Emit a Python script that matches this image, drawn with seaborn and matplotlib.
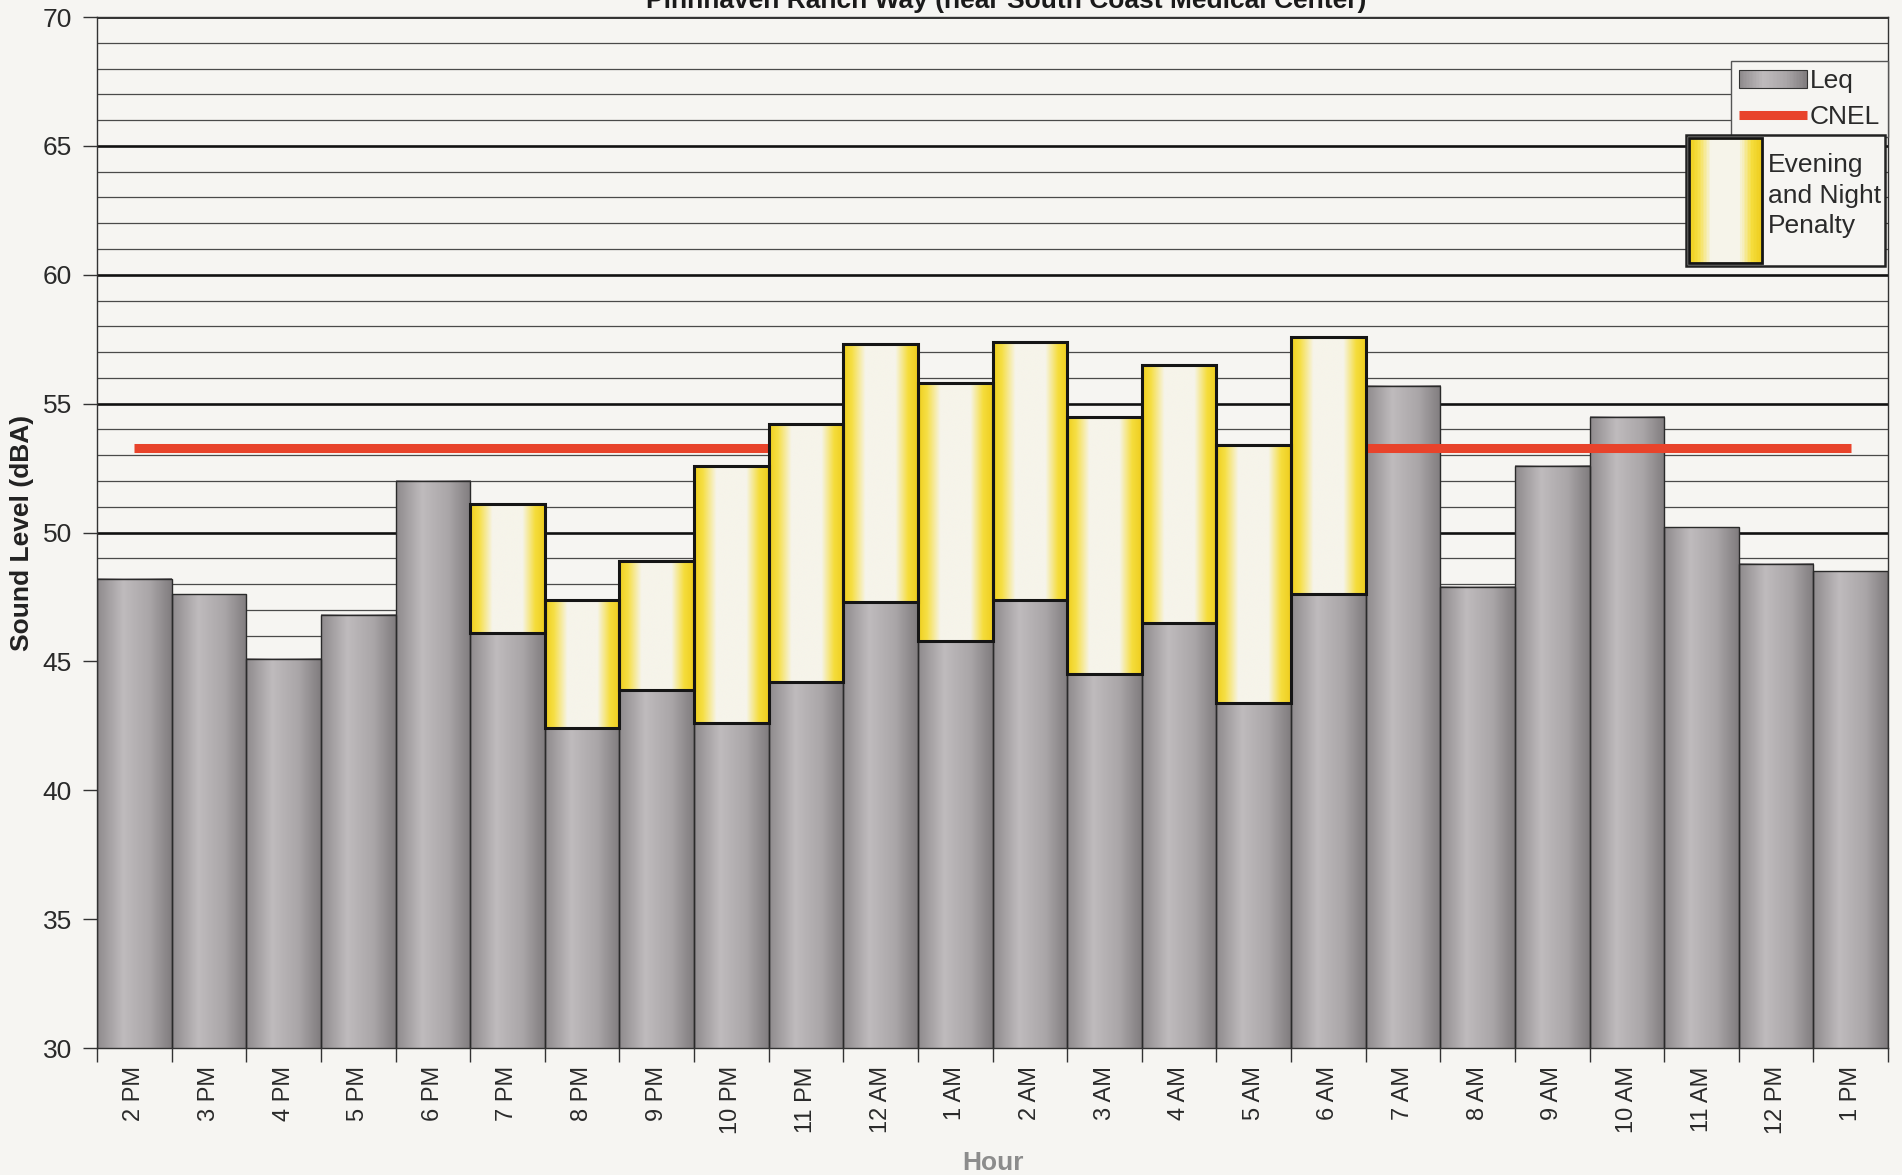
import numpy as np
import pandas as pd
import matplotlib
matplotlib.use("Agg")
import matplotlib.pyplot as plt
import seaborn as sns
from matplotlib.colors import LinearSegmentedColormap
from matplotlib.patches import Rectangle
from matplotlib.lines import Line2D
from matplotlib.legend_handler import HandlerBase
from matplotlib.ticker import MultipleLocator

# ---------------- data ----------------
hours = ["2 PM", "3 PM", "4 PM", "5 PM", "6 PM", "7 PM", "8 PM", "9 PM", "10 PM", "11 PM",
         "12 AM", "1 AM", "2 AM", "3 AM", "4 AM", "5 AM", "6 AM", "7 AM", "8 AM", "9 AM",
         "10 AM", "11 AM", "12 PM", "1 PM"]
leq = [48.2, 47.6, 45.1, 46.8, 52.0, 46.1, 42.4, 43.9, 42.6, 44.2,
       47.3, 45.8, 47.4, 44.5, 46.5, 43.4, 47.6, 55.7, 47.9, 52.6,
       54.5, 50.2, 48.8, 48.5]
penalty = [0, 0, 0, 0, 0, 5, 5, 5, 10, 10,
           10, 10, 10, 10, 10, 10, 10, 0, 0, 0,
           0, 0, 0, 0]
cnel = 53.3
title = "Pinnhaven Ranch Way (near South Coast Medical Center)"
y_ticks = [30, 35, 40, 45, 50, 55, 60, 65, 70]
y_range = (30, 70)

df = pd.DataFrame({"hour": hours, "leq": leq, "penalty": penalty})
df_pen = df[df["penalty"] > 0]

# ---------------- style ----------------
sns.set_theme(style="white")
plt.rcParams["font.family"] = ["Liberation Sans", "DejaVu Sans"]
BG = "#f6f5f2"

gray_cmap = LinearSegmentedColormap.from_list(
    "g", [(0, "#8e8a8c"), (0.35, "#bfbbbd"), (0.7, "#aaa6a8"), (1, "#807c7e")])
yel_cmap = LinearSegmentedColormap.from_list(
    "y", [(0, "#efcf1c"), (0.12, "#f6df45"), (0.3, "#f6f4ea"), (0.7, "#f6f4ea"),
          (0.87, "#f5dd3c"), (1, "#eecd1e")])

fig = plt.figure(figsize=(19.02, 11.75), dpi=100, facecolor=BG)
ax = fig.add_axes([0.051, 0.108, 0.9417, 0.8775])
ax.set_facecolor(BG)

# gray Leq bars
sns.barplot(data=df, x="hour", y="leq", order=hours, width=1.0, color="#a5a1a3",
            edgecolor="#2a2a2a", linewidth=1.0, ax=ax, zorder=2)
gray_patches = list(ax.patches)

# yellow penalty bars stacked on Leq
sns.barplot(data=df_pen, x="hour", y="penalty", order=hours, width=1.0, color="#f2d830",
            edgecolor="#151515", linewidth=2.2, ax=ax, zorder=4,
            bottom=df_pen["leq"].to_numpy())
yel_patches = [p for p in ax.patches if p not in gray_patches]

def shade(patches, cmap, z):
    grad = np.linspace(0, 1, 256).reshape(1, -1)
    for p in patches:
        x0, y0 = p.get_x(), p.get_y()
        w, h = p.get_width(), p.get_height()
        if not np.isfinite(h) or h == 0:
            continue
        lo = max(y0, y_range[0])
        hi = min(y0 + h, y_range[1])
        ax.imshow(grad, cmap=cmap, extent=[x0, x0 + w, lo, hi],
                  aspect="auto", zorder=z, interpolation="bilinear")
        p.set_facecolor("none")

shade(gray_patches, gray_cmap, 2)
shade(yel_patches, yel_cmap, 4)
for p in gray_patches:
    p.set_zorder(2.1)
for p in yel_patches:
    p.set_zorder(4.1)

# CNEL line between first and last bar centres
xpos = np.arange(len(hours))
ax.plot([xpos[0], xpos[-1]], [cnel, cnel], color="#e8432b", lw=6.5,
        solid_capstyle="butt", zorder=3)

ax.set_ylim(*y_range)
ax.set_xlim(-0.5, len(hours) - 0.5)

# grid
ax.set_yticks(y_ticks)
ax.yaxis.set_minor_locator(MultipleLocator(1))
ax.grid(False)
ax.grid(which="major", axis="y", color="#111111", lw=1.9, zorder=0.5)
ax.grid(which="minor", axis="y", color="#4a4a4a", lw=0.9, zorder=0.4)
ax.set_axisbelow(True)

ax.tick_params(axis="y", which="major", length=10, width=1.0, color="#333333",
               labelsize=19, labelcolor="#2a2a2a", pad=8, left=True)
ax.tick_params(axis="y", which="minor", length=0)
ax.set_xticks(xpos)
ax.set_xticklabels(hours, rotation=90)
ax.set_xticks(np.arange(-0.5, len(hours), 1), minor=True)
ax.tick_params(axis="x", which="major", length=0, labelsize=17, labelcolor="#2a2a2a", pad=13)
ax.tick_params(axis="x", which="minor", length=10, width=1.0, color="#333333", bottom=True)

for s in ax.spines.values():
    s.set_color("#333333")
    s.set_linewidth(1.0)

ax.set_ylabel("")
ax.set_xlabel("Hour", fontsize=19, fontweight="bold", color="#8c8c8c", labelpad=12)
fig.text(22 / 1902, 1 - 533 / 1175, "Sound Level (dBA)", rotation=90, ha="center",
         va="center", fontsize=19, fontweight="bold", color="#222222")

fig.text(0.529, 1 - 8 / 1175, title, ha="center", va="baseline",
         fontsize=19, fontweight="bold", color="#1a1a1a")

# ---------------- legends ----------------
class GradientHandler(HandlerBase):
    def __init__(self, cmap, ec, lw):
        super().__init__()
        self.cmap, self.ec, self.lw = cmap, ec, lw

    def create_artists(self, legend, orig_handle, xdescent, ydescent, width, height,
                       fontsize, trans):
        n = 48
        arts = []
        for i in range(n):
            arts.append(Rectangle((-xdescent + width * i / n, -ydescent), width / n * 1.1,
                                  height, facecolor=self.cmap(i / (n - 1)),
                                  edgecolor="none", transform=trans))
        arts.append(Rectangle((-xdescent, -ydescent), width, height, fill=False,
                              edgecolor=self.ec, lw=self.lw, transform=trans))
        return arts

leq_h = Rectangle((0, 0), 1, 1)
cnel_h = Line2D([], [], color="#e8432b", lw=6.5, solid_capstyle="butt")
leg1 = ax.legend([leq_h, cnel_h], ["Leq", "CNEL"], loc="upper right",
                 bbox_to_anchor=(1.0, 0.957), fontsize=19, frameon=True, fancybox=False,
                 handlelength=2.6, handleheight=0.7, handletextpad=0.1,
                 labelspacing=0.45, borderpad=0.3, borderaxespad=0,
                 handler_map={leq_h: GradientHandler(gray_cmap, "#333333", 0.8)})
leg1.get_frame().set_facecolor(BG)
leg1.get_frame().set_edgecolor("#555555")
leg1.get_frame().set_linewidth(1.0)
leg1.get_frame().set_alpha(1)
leg1.set_zorder(10)
ax.add_artist(leg1)

pen_h = Rectangle((0, 0), 1, 1)
leg2 = ax.legend([pen_h], ["Evening\nand Night\nPenalty"], loc="upper right",
                 bbox_to_anchor=(0.998, 0.886), fontsize=19, frameon=True, fancybox=False,
                 handlelength=2.75, handleheight=6.9, handletextpad=0.25,
                 borderpad=0.12, borderaxespad=0,
                 handler_map={pen_h: GradientHandler(yel_cmap, "#151515", 2.0)})
leg2.get_frame().set_facecolor(BG)
leg2.get_frame().set_edgecolor("#222222")
leg2.get_frame().set_linewidth(1.8)
leg2.get_frame().set_alpha(1)
leg2.set_zorder(10)
for t in leg2.get_texts():
    t.set_linespacing(1.35)
for t in leg1.get_texts() + leg2.get_texts():
    t.set_color("#2a2a2a")

fig.savefig("out.png", dpi=100, facecolor=BG)
